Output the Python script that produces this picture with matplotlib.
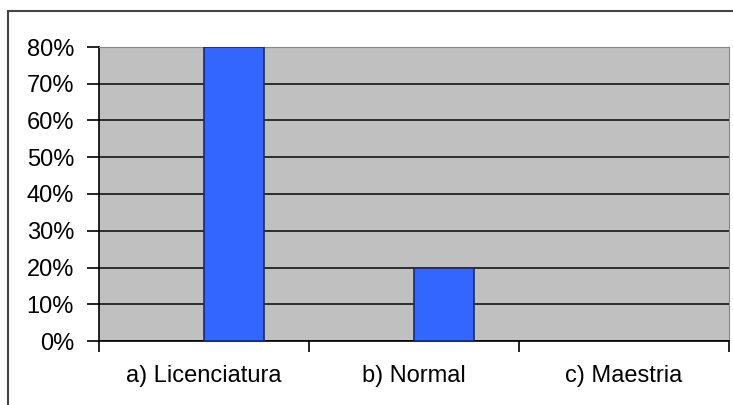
import matplotlib
matplotlib.use("Agg")
from matplotlib import pyplot as plt
from matplotlib.patches import Rectangle
import numpy as np

categories = ["a) Licenciatura", "b) Normal", "c) Maestria"]
values = [80, 20, 0]
yticks = [0, 10, 20, 30, 40, 50, 60, 70, 80]

plt.rcParams["font.family"] = ["Liberation Sans", "DejaVu Sans"]

fig = plt.figure(figsize=(7.33, 4.05), dpi=100)
ax = fig.add_axes([99 / 733, 64 / 405, 630 / 733, 294 / 405])
ax.set_facecolor("#c0c0c0")

x = np.arange(len(categories))
bar_w = 60 / 210
# no outline on empty bars
lw = [1.2 if v > 0 else 0 for v in values]
ax.bar(x, values, width=bar_w, align="edge", color="#3366ff",
       edgecolor="#1a2a6c", linewidth=lw, zorder=3)

ax.set_xlim(-0.5, len(categories) - 0.5)
ax.set_ylim(0, 80)
ax.set_yticks(yticks)
ax.set_yticklabels([f"{v}%" for v in yticks], fontsize=17)
ax.yaxis.grid(True, color="#222222", linewidth=1.3, zorder=1)
ax.set_axisbelow(True)

# category labels centred, ticks at category boundaries
ax.set_xticks(x)
ax.set_xticklabels(categories, fontsize=17)
ax.tick_params(axis="x", which="major", length=0, pad=17)
ax.set_xticks(np.arange(-0.5, len(categories)), minor=True)
ax.tick_params(axis="x", which="minor", length=8, width=1.2, color="black")
ax.tick_params(axis="y", length=9, width=1.2, pad=9)

ax.spines["left"].set_color("black")
ax.spines["bottom"].set_color("black")
ax.spines["left"].set_linewidth(1.2)
ax.spines["bottom"].set_linewidth(1.2)
ax.spines["top"].set_color("#888888")
ax.spines["right"].set_color("#888888")

# outer chart border
fig.patches.append(Rectangle((8 / 733, -0.1), 1.0, (405 - 11) / 405 + 0.1,
                             transform=fig.transFigure, fill=False,
                             edgecolor="#444444", linewidth=1.5))

fig.savefig("out.png", dpi=100)
